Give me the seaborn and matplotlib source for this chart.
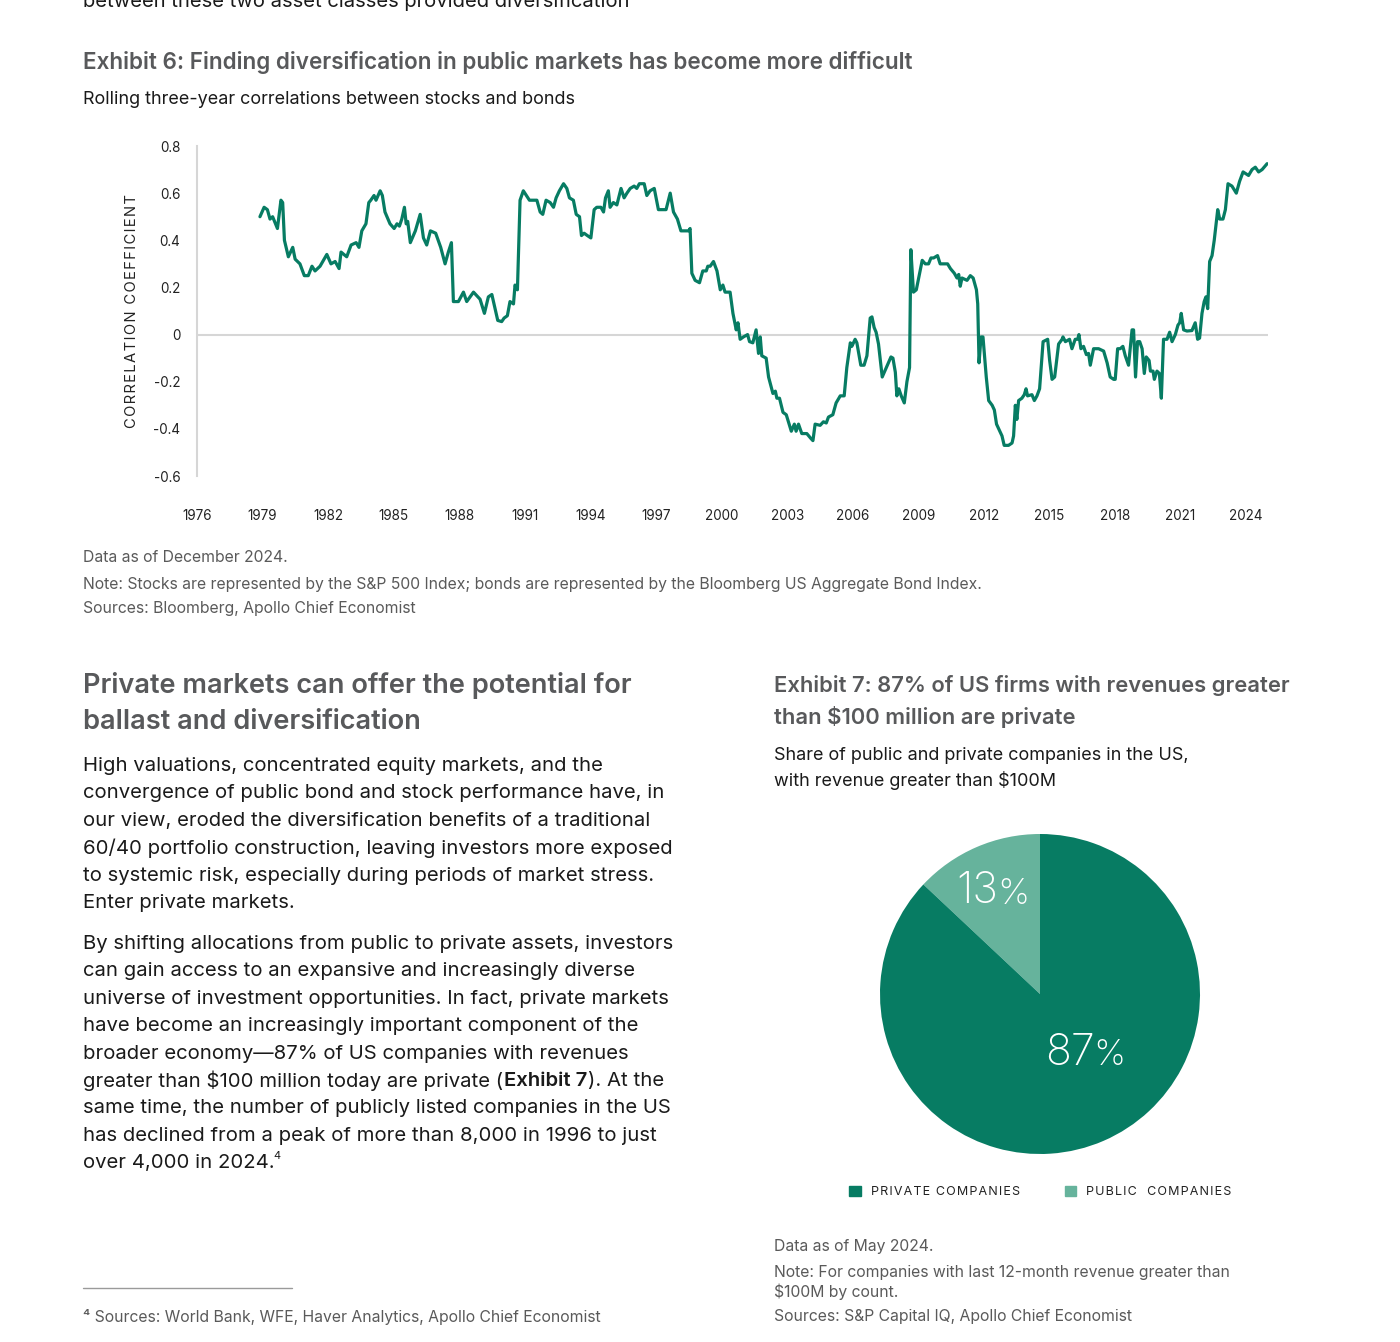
import numpy as np
import pandas as pd
import seaborn as sns
import matplotlib.pyplot as plt
from matplotlib.patches import Patch

# rolling 3y stock/bond correlation
years = [
    1978.88, 1979.07, 1979.22, 1979.34, 1979.46, 1979.68, 1979.84, 1979.92, 1980.00, 1980.18,
    1980.38, 1980.49, 1980.71, 1980.91, 1981.09, 1981.26, 1981.40, 1981.63, 1981.94, 1982.13,
    1982.32, 1982.50, 1982.59, 1982.85, 1983.05, 1983.28, 1983.41, 1983.54, 1983.73, 1983.86,
    1983.95, 1984.10, 1984.19, 1984.38, 1984.48, 1984.60, 1984.83, 1985.02, 1985.15, 1985.26,
    1985.37, 1985.49, 1985.57, 1985.64, 1985.76, 1985.99, 1986.21, 1986.36, 1986.51, 1986.68,
    1986.92, 1987.15, 1987.35, 1987.50, 1987.64, 1987.73, 1987.96, 1988.19, 1988.34, 1988.65,
    1988.95, 1989.15, 1989.33, 1989.49, 1989.76, 1989.94, 1990.05, 1990.20, 1990.32, 1990.48,
    1990.55, 1990.66, 1990.78, 1990.93, 1991.21, 1991.55, 1991.70, 1991.82, 1991.97, 1992.16,
    1992.31, 1992.43, 1992.58, 1992.77, 1992.92, 1993.04, 1993.22, 1993.35, 1993.50, 1993.59,
    1993.71, 1993.86, 1994.02, 1994.17, 1994.29, 1994.48, 1994.60, 1994.69, 1994.82, 1994.90,
    1995.05, 1995.21, 1995.40, 1995.54, 1995.67, 1995.82, 1996.00, 1996.12, 1996.24, 1996.46,
    1996.58, 1996.73, 1996.92, 1997.11, 1997.34, 1997.46, 1997.65, 1997.80, 1997.98, 1998.14,
    1998.49, 1998.56, 1998.64, 1998.79, 1998.99, 1999.14, 1999.30, 1999.37, 1999.48, 1999.63,
    1999.79, 1999.94, 2000.06, 2000.16, 2000.39, 2000.52, 2000.67, 2000.75, 2000.85, 2001.00,
    2001.19, 2001.28, 2001.43, 2001.58, 2001.69, 2001.77, 2001.84, 2002.04, 2002.15, 2002.35,
    2002.46, 2002.53, 2002.65, 2002.81, 2002.96, 2003.19, 2003.33, 2003.41, 2003.52, 2003.67,
    2003.90, 2004.08, 2004.18, 2004.28, 2004.51, 2004.66, 2004.79, 2004.89, 2005.09, 2005.24,
    2005.43, 2005.61, 2005.73, 2005.89, 2005.96, 2006.11, 2006.19, 2006.37, 2006.52, 2006.65,
    2006.80, 2006.88, 2006.98, 2007.07, 2007.18, 2007.35, 2007.49, 2007.75, 2007.84, 2007.95,
    2008.02, 2008.11, 2008.22, 2008.36, 2008.48, 2008.60, 2008.66, 2008.78, 2008.91, 2009.06,
    2009.18, 2009.32, 2009.47, 2009.58, 2009.70, 2009.88, 2010.00, 2010.16, 2010.34, 2010.47,
    2010.65, 2010.77, 2010.85, 2010.92, 2011.00, 2011.23, 2011.38, 2011.51, 2011.66, 2011.72,
    2011.78, 2011.87, 2011.96, 2012.11, 2012.22, 2012.38, 2012.48, 2012.58, 2012.73, 2012.83,
    2012.93, 2013.13, 2013.29, 2013.36, 2013.44, 2013.51, 2013.59, 2013.74, 2013.85, 2013.93,
    2014.00, 2014.20, 2014.31, 2014.43, 2014.55, 2014.71, 2014.92, 2015.01, 2015.12, 2015.24,
    2015.42, 2015.58, 2015.62, 2015.73, 2015.92, 2016.03, 2016.18, 2016.29, 2016.35, 2016.44,
    2016.56, 2016.69, 2016.79, 2016.87, 2017.02, 2017.25, 2017.48, 2017.64, 2017.78, 2017.94,
    2018.01, 2018.12, 2018.24, 2018.36, 2018.47, 2018.62, 2018.78, 2018.85, 2018.94, 2019.03,
    2019.13, 2019.24, 2019.34, 2019.43, 2019.56, 2019.62, 2019.74, 2019.80, 2019.92, 2020.03,
    2020.12, 2020.22, 2020.38, 2020.50, 2020.61, 2020.76, 2020.88, 2020.96, 2021.03, 2021.14,
    2021.29, 2021.52, 2021.67, 2021.78, 2021.87, 2021.98, 2022.08, 2022.16, 2022.24, 2022.33,
    2022.44, 2022.54, 2022.70, 2022.79, 2022.94, 2023.05, 2023.17, 2023.35, 2023.55, 2023.70,
    2023.86, 2024.11, 2024.27, 2024.42, 2024.57, 2024.73, 2024.96,
]
corr = [
    0.50, 0.54, 0.53, 0.49, 0.50, 0.45, 0.57, 0.56, 0.40, 0.33,
    0.37, 0.32, 0.30, 0.25, 0.25, 0.29, 0.27, 0.29, 0.34, 0.30,
    0.31, 0.28, 0.35, 0.33, 0.38, 0.39, 0.37, 0.44, 0.47, 0.56,
    0.57, 0.59, 0.57, 0.61, 0.59, 0.52, 0.47, 0.45, 0.47, 0.46,
    0.49, 0.54, 0.47, 0.48, 0.39, 0.44, 0.51, 0.41, 0.38, 0.44,
    0.43, 0.37, 0.30, 0.35, 0.39, 0.14, 0.14, 0.18, 0.14, 0.18,
    0.15, 0.09, 0.16, 0.17, 0.06, 0.055, 0.07, 0.08, 0.14, 0.13,
    0.21, 0.19, 0.57, 0.61, 0.57, 0.57, 0.52, 0.51, 0.57, 0.56,
    0.54, 0.58, 0.61, 0.64, 0.62, 0.58, 0.57, 0.51, 0.50, 0.42,
    0.43, 0.42, 0.41, 0.53, 0.54, 0.54, 0.52, 0.58, 0.61, 0.54,
    0.56, 0.55, 0.62, 0.58, 0.60, 0.62, 0.63, 0.62, 0.64, 0.64,
    0.59, 0.61, 0.62, 0.53, 0.53, 0.53, 0.60, 0.52, 0.49, 0.44,
    0.44, 0.45, 0.26, 0.23, 0.22, 0.27, 0.27, 0.29, 0.29, 0.31,
    0.27, 0.19, 0.21, 0.18, 0.18, 0.09, 0.02, 0.05, -0.02, -0.01,
    0.00, -0.03, -0.035, 0.02, -0.08, -0.01, -0.09, -0.10, -0.18, -0.25,
    -0.24, -0.27, -0.27, -0.33, -0.34, -0.41, -0.38, -0.41, -0.38, -0.42,
    -0.42, -0.44, -0.45, -0.38, -0.385, -0.37, -0.375, -0.35, -0.34, -0.29,
    -0.26, -0.26, -0.14, -0.035, -0.05, -0.02, -0.035, -0.13, -0.13, -0.09,
    0.07, 0.075, 0.03, 0.01, -0.04, -0.18, -0.15, -0.095, -0.10, -0.16,
    -0.26, -0.23, -0.26, -0.29, -0.20, -0.14, 0.36, 0.18, 0.19, 0.26,
    0.315, 0.30, 0.30, 0.325, 0.325, 0.335, 0.30, 0.30, 0.30, 0.28,
    0.26, 0.24, 0.255, 0.205, 0.24, 0.23, 0.25, 0.24, 0.19, 0.13,
    -0.12, -0.01, -0.01, -0.18, -0.28, -0.30, -0.32, -0.38, -0.41, -0.43,
    -0.47, -0.47, -0.46, -0.43, -0.30, -0.36, -0.28, -0.27, -0.255, -0.23,
    -0.26, -0.255, -0.28, -0.26, -0.23, -0.03, -0.02, -0.11, -0.19, -0.18,
    -0.04, -0.02, -0.01, -0.03, -0.02, -0.06, -0.02, -0.02, 0.00, -0.06,
    -0.05, -0.085, -0.08, -0.13, -0.06, -0.06, -0.07, -0.12, -0.18, -0.19,
    -0.19, -0.06, -0.06, -0.05, -0.09, -0.13, 0.02, 0.02, -0.18, -0.03,
    -0.03, -0.06, -0.165, -0.095, -0.11, -0.155, -0.155, -0.19, -0.155, -0.165,
    -0.27, -0.02, -0.02, 0.01, -0.03, 0.00, 0.04, 0.05, 0.09, 0.02,
    0.015, 0.017, 0.05, -0.02, -0.015, 0.09, 0.14, 0.16, 0.11, 0.31,
    0.335, 0.40, 0.53, 0.49, 0.49, 0.53, 0.64, 0.63, 0.60, 0.65,
    0.69, 0.675, 0.70, 0.71, 0.69, 0.70, 0.725,
]
year_ticks = list(range(1976, 2025, 3))
corr_ticks = [0.8, 0.6, 0.4, 0.2, 0, -0.2, -0.4, -0.6]
corr_tick_labels = ["0.8", "0.6", "0.4", "0.2", "0", "-0.2", "-0.4", "-0.6"]

# exhibit 7 pie
pie_labels = ["PUBLIC  COMPANIES", "PRIVATE COMPANIES"]
pie_shares = [13, 87]

W, H = 1400, 1342
GREEN = "#077c63"
LIGHT = "#66b39c"
HEAD = "#58595b"
NOTE = "#5a5a5a"
NOTE_PX = 15.75

sns.set_theme(style="white")
plt.rcParams["font.family"] = ["Inter", "DejaVu Sans"]

fig = plt.figure(figsize=(W / 100, H / 100), dpi=100)
fig.patch.set_facecolor("white")


def fx(x):
    return x / W


def fy(y):
    return 1 - y / H


def put(x, y, s, px, color="#1a1a1a", weight="normal", **kw):
    return fig.text(fx(x), fy(y), s, fontsize=px * 0.72, color=color,
                    fontweight=weight, va="center", **kw)


def spaced(s, gap="\u200a"):
    return gap.join(s)


# ---- exhibit 6: line chart ----
ax = fig.add_axes([fx(197), fy(476), (1268 - 197) / W, (476 - 146) / H])
df = pd.DataFrame({"year": years, "corr": corr})
sns.lineplot(data=df, x="year", y="corr", ax=ax, color=GREEN, linewidth=2.3)
ax.axhline(0, color="#d6d6d6", lw=1.5, zorder=0)
ax.set_xlim(1976, 2025)
ax.set_ylim(-0.6, 0.8)
ax.set_xticks(year_ticks)
ax.set_yticks(corr_ticks)
ax.set_yticklabels(corr_tick_labels)
ax.tick_params(axis="both", length=0, labelsize=13.5 * 0.72, labelcolor="#222222")
ax.tick_params(axis="x", pad=23.5)
ax.tick_params(axis="y", pad=12)
for side in ["top", "right", "bottom"]:
    ax.spines[side].set_visible(False)
ax.spines["left"].set_color("#d6d6d6")
ax.spines["left"].set_linewidth(1.5)
ax.set_xlabel("")
ax.set_ylabel(spaced("CORRELATION COEFFICIENT"), fontsize=14.8 * 0.72,
              color="#222222", labelpad=10)
ax.set_facecolor("white")

put(83, 2, "between these two asset classes provided diversification", 20.2)
put(83, 62, "Exhibit 6: Finding diversification in public markets has become more difficult",
    22.5, color=HEAD, weight="semibold")
put(83, 100, "Rolling three-year correlations between stocks and bonds", 18)
put(83, 558, "Data as of December 2024.", NOTE_PX, color=NOTE)
put(83, 584, "Note: Stocks are represented by the S&P 500 Index; bonds are represented "
    "by the Bloomberg US Aggregate Bond Index.", NOTE_PX, color=NOTE)
put(83, 609, "Sources: Bloomberg, Apollo Chief Economist", NOTE_PX, color=NOTE)

# ---- left column text ----
put(83, 686, "Private markets can offer the potential for", 27.2, color=HEAD, weight="semibold")
put(83, 722, "ballast and diversification", 27.2, color=HEAD, weight="semibold")

BODY = 20.3
para1 = [
    "High valuations, concentrated equity markets, and the",
    "convergence of public bond and stock performance have, in",
    "our view, eroded the diversification benefits of a traditional",
    "60/40 portfolio construction, leaving investors more exposed",
    "to systemic risk, especially during periods of market stress.",
    "Enter private markets.",
]
for i, line in enumerate(para1):
    put(83, 766 + i * 27.4, line, BODY)

para2 = [
    "By shifting allocations from public to private assets, investors",
    "can gain access to an expansive and increasingly diverse",
    "universe of investment opportunities. In fact, private markets",
    "have become an increasingly important component of the",
    "broader economy\u201487% of US companies with revenues",
    None,
    "same time, the number of publicly listed companies in the US",
    "has declined from a peak of more than 8,000 in 1996 to just",
    None,
]
for i, line in enumerate(para2):
    if line:
        put(83, 944 + i * 27.4, line, BODY)

renderer = fig.canvas.get_renderer()
yb = 944 + 5 * 27.4
t = put(83, yb, "greater than $100 million today are private (", BODY)
x = 83 + t.get_window_extent(renderer).width + 1
t = put(x, yb, "Exhibit 7", BODY, weight="semibold")
x += t.get_window_extent(renderer).width + 1
put(x, yb, "). At the", BODY)

yb = 944 + 8 * 27.4
t = put(83, yb, "over 4,000 in 2024.", BODY)
x = 83 + t.get_window_extent(renderer).width - 1
put(x, yb - 7, "4", 11)

fig.add_artist(plt.Line2D([fx(83), fx(292)], [fy(1288), fy(1288)], color="#9a9a9a", lw=1))
put(83, 1317, "\u2074 Sources: World Bank, WFE, Haver Analytics, Apollo Chief Economist",
    NOTE_PX, color=NOTE)

# ---- exhibit 7: pie ----
put(774, 685, "Exhibit 7: 87% of US firms with revenues greater", 22, color=HEAD, weight="semibold")
put(774, 717, "than $100 million are private", 22, color=HEAD, weight="semibold")
put(774, 756, "Share of public and private companies in the US,", 18)
put(774, 781, "with revenue greater than $100M", 18)

pax = fig.add_axes([fx(880), fy(1154), 320 / W, 320 / H])
wedges, _ = pax.pie(pie_shares, colors=[LIGHT, GREEN], startangle=90,
                    counterclock=True, radius=1.0,
                    wedgeprops=dict(linewidth=0))
pax.set_xlim(-1, 1)
pax.set_ylim(-1, 1)
pax.set_aspect("equal")
for (px_, py_), share in zip([(-0.26, 0.64), (0.34, -0.37)], pie_shares):
    pax.text(px_, py_, str(share), fontsize=31, color="white", ha="right",
             va="center", fontweight="light")
    pax.text(px_ - 0.005, py_ - 0.015, "%", fontsize=26, color="white", ha="left",
             va="center", fontweight="light")

handles = [Patch(color=GREEN), Patch(color=LIGHT)]
fig.legend(handles, [spaced(pie_labels[1]), spaced(pie_labels[0])],
           loc="center left", bbox_to_anchor=(fx(838), fy(1192)), ncol=2,
           frameon=False, fontsize=12.5 * 0.72, handlelength=0.9, handleheight=0.9,
           handletextpad=0.85, columnspacing=3.55, labelcolor="#222222")

put(774, 1246, "Data as of May 2024.", NOTE_PX, color=NOTE)
put(774, 1272, "Note: For companies with last 12-month revenue greater than", NOTE_PX, color=NOTE)
put(774, 1292, "$100M by count.", NOTE_PX, color=NOTE)
put(774, 1317, "Sources: S&P Capital IQ, Apollo Chief Economist", NOTE_PX, color=NOTE)

fig.savefig("out.png", dpi=100, facecolor="white")
